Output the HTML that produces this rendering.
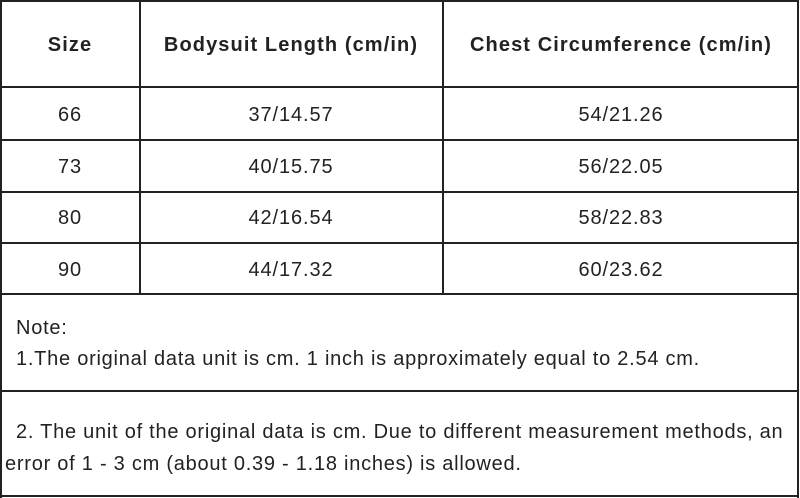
<!DOCTYPE html>
<html><head><style>
body{margin:0;width:800px;height:498px;background:#fff;position:relative;overflow:hidden;font-family:"Liberation Sans",sans-serif;color:#222}
.h{position:absolute;left:0;width:799px;height:2px;background:#222}
.v{position:absolute;width:2px;background:#222}
.t{position:absolute;font-size:20px;letter-spacing:0.9px;white-space:nowrap;transform:translateX(-50%)}
.b{font-weight:bold;letter-spacing:1.1px}
.l{position:absolute;font-size:20px;letter-spacing:0.75px;white-space:nowrap}
</style></head><body>
<div class="h" style="top:0"></div>
<div class="h" style="top:86px"></div>
<div class="h" style="top:139px"></div>
<div class="h" style="top:191px"></div>
<div class="h" style="top:242px"></div>
<div class="h" style="top:293px"></div>
<div class="h" style="top:390px"></div>
<div class="h" style="top:495px"></div>
<div class="v" style="left:0;top:0;height:498px"></div>
<div class="v" style="left:797px;top:0;height:498px"></div>
<div class="v" style="left:139px;top:0;height:295px"></div>
<div class="v" style="left:442px;top:0;height:295px"></div>

<div class="t b" style="left:70px;top:34px">Size</div>
<div class="t b" style="left:291px;top:34px">Bodysuit Length (cm/in)</div>
<div class="t b" style="left:621px;top:34px">Chest Circumference (cm/in)</div>

<div class="t" style="left:70px;top:104px">66</div>
<div class="t" style="left:291px;top:104px">37/14.57</div>
<div class="t" style="left:621px;top:104px">54/21.26</div>
<div class="t" style="left:70px;top:156px">73</div>
<div class="t" style="left:291px;top:156px">40/15.75</div>
<div class="t" style="left:621px;top:156px">56/22.05</div>
<div class="t" style="left:70px;top:207px">80</div>
<div class="t" style="left:291px;top:207px">42/16.54</div>
<div class="t" style="left:621px;top:207px">58/22.83</div>
<div class="t" style="left:70px;top:259px">90</div>
<div class="t" style="left:291px;top:259px">44/17.32</div>
<div class="t" style="left:621px;top:259px">60/23.62</div>

<div class="l" style="left:16px;top:317px">Note:</div>
<div class="l" style="left:16px;top:348px">1.The original data unit is cm. 1 inch is approximately equal to 2.54 cm.</div>
<div class="l" style="left:16px;top:421px">2. The unit of the original data is cm. Due to different measurement methods, an</div>
<div class="l" style="left:5px;top:453px">error of 1 - 3 cm (about 0.39 - 1.18 inches) is allowed.</div>
</body></html>
